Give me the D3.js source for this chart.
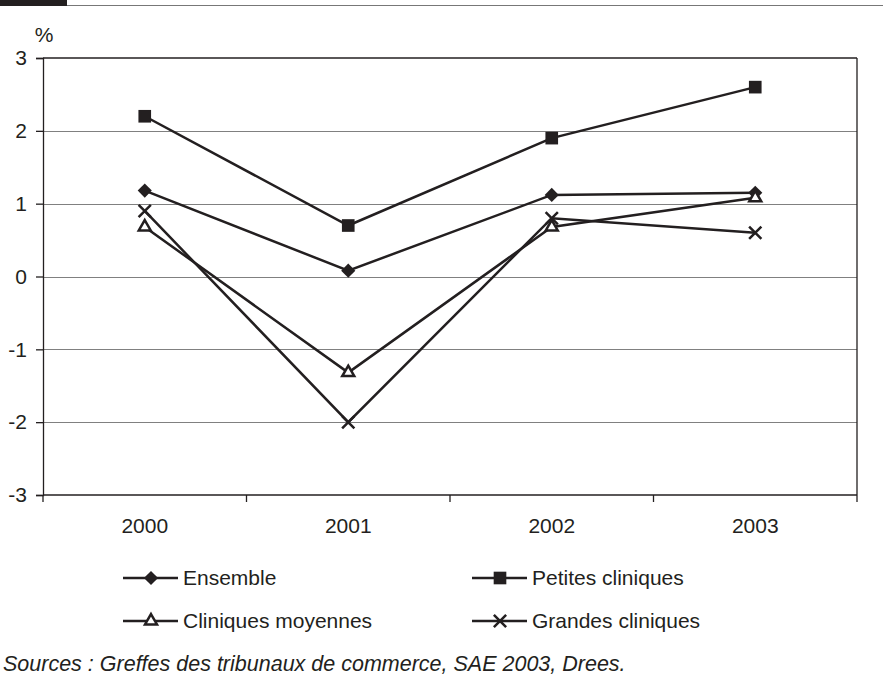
<!DOCTYPE html>
<html>
<head>
<meta charset="utf-8">
<script src="https://cdn.jsdelivr.net/npm/d3@7"></script>
<style>
  body { margin: 0; background: #fff; }
  svg { display: block; font-family: "Liberation Sans", Arial, sans-serif; }
</style>
</head>
<body>
<svg id="chart" width="883" height="691"></svg>
<script>
// data
const years = ["2000", "2001", "2002", "2003"];
const ensemble = [1.18, 0.08, 1.12, 1.15];
const petites = [2.2, 0.7, 1.9, 2.6];
const moyennes = [0.68, -1.32, 0.68, 1.08];
const grandes = [0.9, -2.0, 0.8, 0.6];
const yTicks = [3, 2, 1, 0, -1, -2, -3];

const ink = "#231f20";
const svg = d3.select("#chart");

const margin = { top: 58, right: 26, bottom: 196, left: 43 };
const width = 883 - margin.left - margin.right;
const height = 691 - margin.top - margin.bottom;

// top strip
svg.append("rect").attr("x", 0).attr("y", 0).attr("width", 67).attr("height", 6).attr("fill", ink);
svg.append("line").attr("x1", 67).attr("x2", 883).attr("y1", 5.5).attr("y2", 5.5)
  .attr("stroke", "#777").attr("stroke-width", 1.2);

const g = svg.append("g").attr("transform", `translate(${margin.left},${margin.top})`);

const x = d3.scaleBand().domain(years).range([0, width]);
const y = d3.scaleLinear().domain([-3, 3]).range([height, 0]);

// gridlines
g.selectAll(".grid")
  .data(yTicks.filter((d) => d > -3 && d < 3))
  .enter()
  .append("line")
  .attr("class", "grid")
  .attr("x1", 0)
  .attr("x2", width)
  .attr("y1", (d) => Math.round(y(d)) + 0.5)
  .attr("y2", (d) => Math.round(y(d)) + 0.5)
  .attr("stroke", "#808080")
  .attr("stroke-width", 1.2);

// frame: top, right
g.append("line").attr("x1", 0).attr("x2", width).attr("y1", y(3)).attr("y2", y(3))
  .attr("stroke", ink).attr("stroke-width", 1.3);
g.append("line").attr("x1", width).attr("x2", width).attr("y1", 0).attr("y2", height)
  .attr("stroke", ink).attr("stroke-width", 1.3);

// y axis
const yAxis = d3.axisLeft(y).tickValues(yTicks).tickSize(7).tickPadding(9).tickFormat((d) => String(d));
const yAxisG = g.append("g").call(yAxis);
yAxisG.select(".domain").attr("stroke", ink).attr("stroke-width", 1.3);
yAxisG.selectAll(".tick line").attr("stroke", ink).attr("stroke-width", 1.3);
yAxisG.selectAll(".tick text").attr("fill", ink).style("font-size", "21px")
  .style("font-family", "Liberation Sans, Arial, sans-serif");

g.append("text")
  .attr("x", 1)
  .attr("y", -16)
  .attr("text-anchor", "middle")
  .attr("fill", ink)
  .style("font-size", "21px")
  .text("%");

// x axis: ticks at category boundaries, labels at centres
g.append("line").attr("x1", 0).attr("x2", width).attr("y1", height).attr("y2", height)
  .attr("stroke", ink).attr("stroke-width", 1.3);
const bounds = years.map((d) => x(d)).concat([width]);
g.selectAll(".xtick")
  .data(bounds)
  .enter()
  .append("line")
  .attr("x1", (d) => d)
  .attr("x2", (d) => d)
  .attr("y1", height)
  .attr("y2", height + 7)
  .attr("stroke", ink)
  .attr("stroke-width", 1.3);
g.selectAll(".xlabel")
  .data(years)
  .enter()
  .append("text")
  .attr("x", (d) => x(d) + x.bandwidth() / 2)
  .attr("y", height + 38)
  .attr("text-anchor", "middle")
  .attr("fill", ink)
  .style("font-size", "21px")
  .text((d) => d);

// markers
const symX = {
  draw(ctx, size) {
    const r = Math.sqrt(size) / 2;
    ctx.moveTo(-r, -r); ctx.lineTo(r, r);
    ctx.moveTo(r, -r); ctx.lineTo(-r, r);
  },
};
const seriesList = [
  { name: "Ensemble", values: ensemble, type: d3.symbolSquare, size: 100, rotate: 45, fill: ink, stroke: "none" },
  { name: "Petites cliniques", values: petites, type: d3.symbolSquare, size: 160, rotate: 0, fill: ink, stroke: "none" },
  { name: "Cliniques moyennes", values: moyennes, type: d3.symbolTriangle, size: 62, rotate: 0, fill: "#fff", stroke: ink },
  { name: "Grandes cliniques", values: grandes, type: symX, size: 150, rotate: 0, fill: "none", stroke: ink },
];

const line = d3.line()
  .x((d, i) => x(years[i]) + x.bandwidth() / 2)
  .y((d) => y(d));

seriesList.forEach((s) => {
  g.append("path")
    .attr("d", line(s.values))
    .attr("fill", "none")
    .attr("stroke", ink)
    .attr("stroke-width", 2.5);
});

const drawMarker = (sel, s) => {
  sel.append("path")
    .attr("d", d3.symbol().type(s.type).size(s.size)())
    .attr("fill", s.fill)
    .attr("stroke", s.stroke)
    .attr("stroke-width", 2.5)
    .attr("transform", (d) => `rotate(${s.rotate})`);
};

seriesList.forEach((s) => {
  s.values.forEach((v, i) => {
    const m = g.append("g")
      .attr("transform", `translate(${x(years[i]) + x.bandwidth() / 2},${y(v)})`);
    drawMarker(m, s);
  });
});

// legend
const legendPos = [
  { x: 123, y: 578 },
  { x: 472, y: 578 },
  { x: 123, y: 621 },
  { x: 472, y: 621 },
];
seriesList.forEach((s, i) => {
  const p = legendPos[i];
  const lg = svg.append("g").attr("transform", `translate(${p.x},${p.y})`);
  lg.append("line").attr("x1", 0).attr("x2", 55).attr("y1", 0).attr("y2", 0)
    .attr("stroke", ink).attr("stroke-width", 2.5);
  const m = lg.append("g").attr("transform", "translate(28,0)");
  drawMarker(m, s);
  lg.append("text")
    .attr("x", 60)
    .attr("y", 0)
    .attr("dy", "0.35em")
    .attr("fill", ink)
    .style("font-size", "21px")
    .text(s.name);
});

// source
svg.append("text")
  .attr("x", 3)
  .attr("y", 671)
  .attr("fill", ink)
  .style("font-size", "21.5px")
  .style("font-style", "italic")
  .text("Sources : Greffes des tribunaux de commerce, SAE 2003, Drees.");
</script>
</body>
</html>
